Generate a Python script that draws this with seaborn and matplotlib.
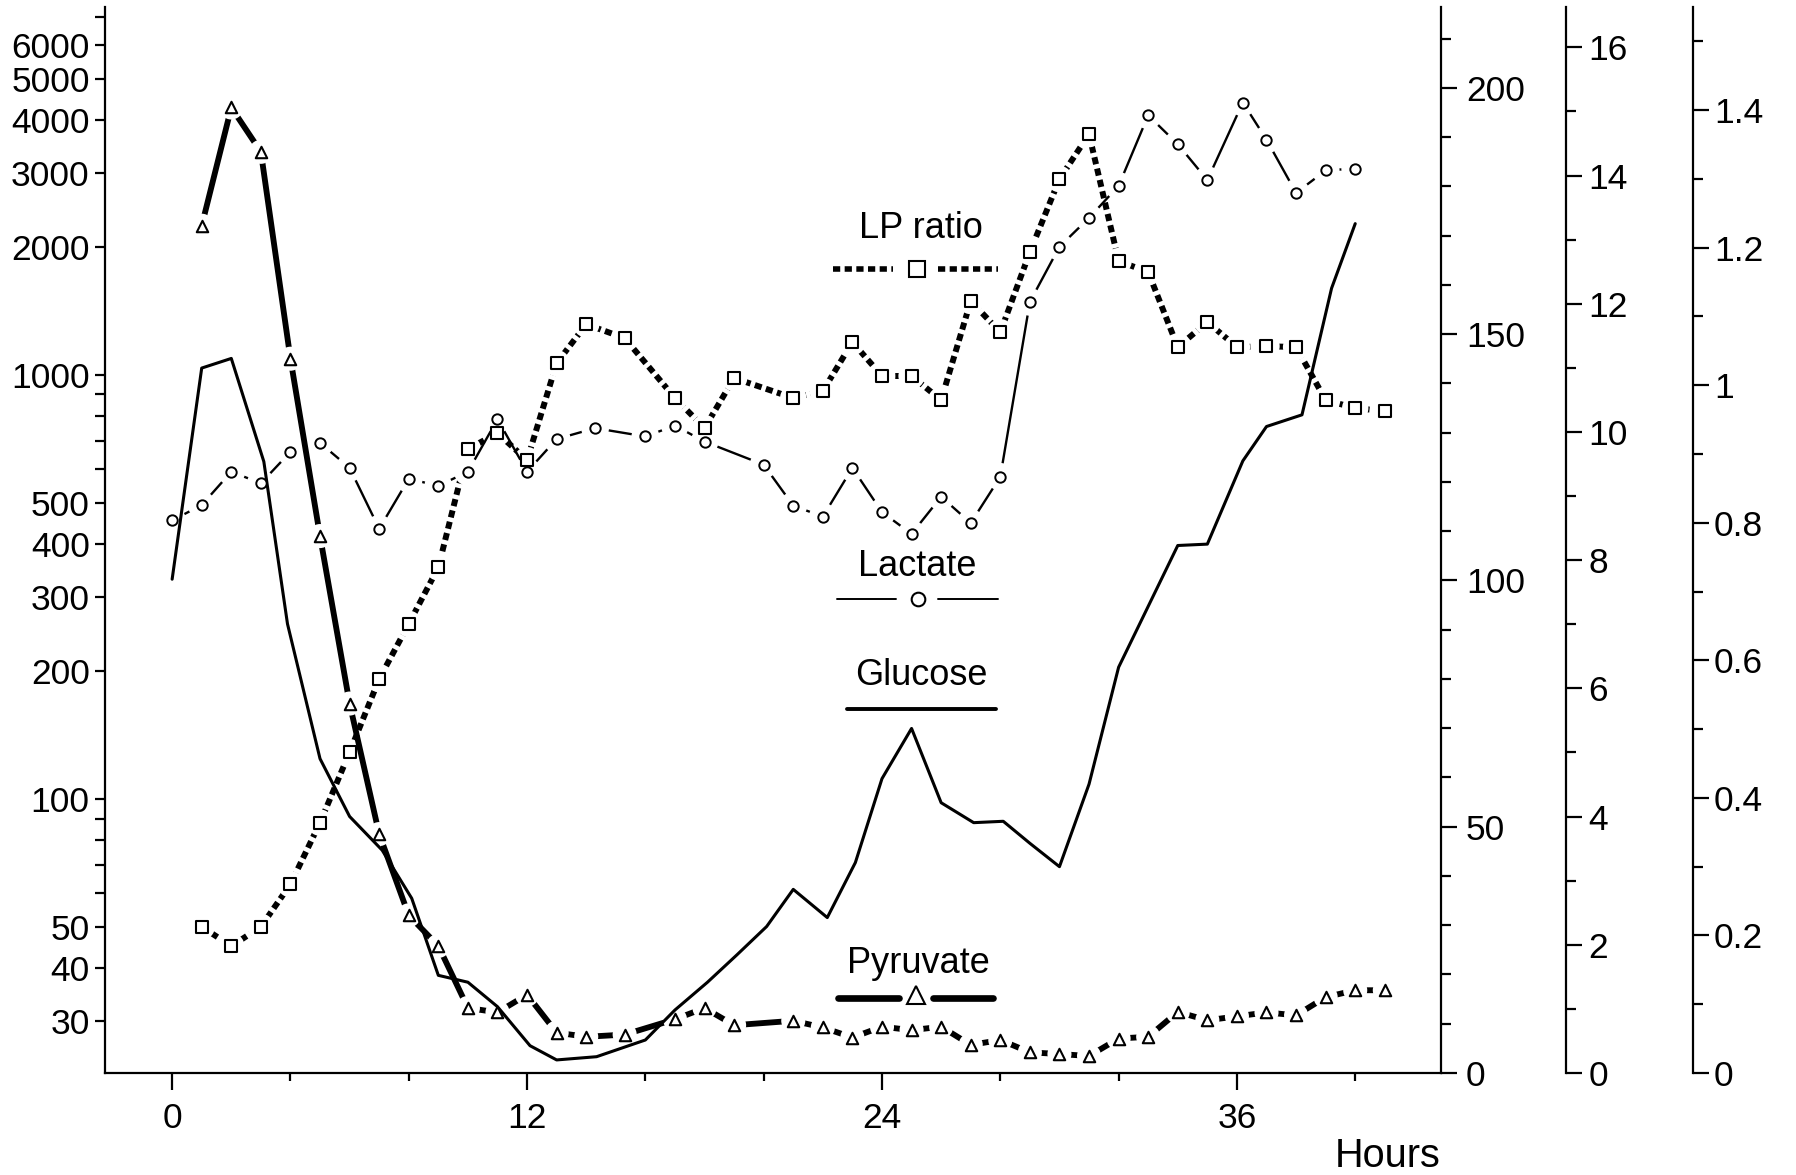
import numpy as np
import matplotlib
matplotlib.use("Agg")
import matplotlib.pyplot as plt
import seaborn as sns
from matplotlib.ticker import FixedLocator, NullFormatter, FuncFormatter, MultipleLocator

# ---------------- data ----------------
lp_hours = [1, 2, 3, 4, 5, 6, 7, 8, 9, 10, 11, 12, 13, 14, 15.3, 17, 18, 19,
            21, 22, 23, 24, 25, 26, 27, 28, 29, 30, 31, 32, 33, 34, 35, 36, 37, 38, 39, 40, 41]
lp_ratio = [50, 45, 50, 63, 88, 129, 192, 259, 352, 669, 730, 630, 1067, 1318, 1222, 883, 750, 984,
            883, 917, 1196, 995, 995, 873, 1495, 1262, 1950, 2899, 3700, 1857, 1750, 1164, 1334,
            1164, 1170, 1164, 873, 836, 822]

pyr_hours = [1, 2, 3, 4, 5, 6, 7, 8, 9, 10, 11, 12, 13, 14, 15.3, 17, 18, 19,
             21, 22, 23, 24, 25, 26, 27, 28, 29, 30, 31, 32, 33, 34, 35, 36, 37, 38, 39, 40, 41]
pyruvate = [172, 196, 187, 145, 109, 75, 48.5, 32, 25.8, 13.2, 12.3, 15.9, 8.2, 7.35, 7.8, 10.9, 13.2, 9.7,
            10.6, 9.25, 7.2, 9.4, 8.7, 9.4, 5.7, 6.7, 4.2, 3.85, 3.45, 7.0, 7.35, 12.4, 10.7,
            11.5, 12.3, 11.7, 15.4, 16.8, 16.8]

lac_hours = [0, 1, 2, 3, 4, 5, 6, 7, 8, 9, 10, 11, 12, 13, 14.3, 16, 17, 18,
             20, 21, 22, 23, 24, 25, 26, 27, 28, 29, 30, 31, 32, 33, 34, 35, 36.2, 37, 38, 39, 40]
lactate = [8.62, 8.86, 9.38, 9.2, 9.69, 9.83, 9.44, 8.49, 9.27, 9.16, 9.38, 10.2, 9.38, 9.89, 10.06,
           9.93, 10.1, 9.85, 9.49, 8.85, 8.68, 9.44, 8.75, 8.41, 8.99, 8.58, 9.30, 12.03, 12.89,
           13.34, 13.84, 14.94, 14.49, 13.93, 15.14, 14.56, 13.73, 14.08, 14.11]

glu_hours = [0, 1, 2, 3.1, 3.9, 5, 6, 7.1, 8.1, 9, 10, 11, 12.1, 13, 14.35, 16, 17, 18.1, 19.1,
             20.1, 21, 22.15, 23.1, 24, 25, 26, 27.1, 28.1, 29, 30, 31, 32, 34, 35, 36.2, 37,
             38.2, 39.2, 40]
glucose = [0.718, 1.025, 1.039, 0.889, 0.653, 0.457, 0.373, 0.324, 0.254, 0.142, 0.132, 0.0964,
           0.0397, 0.019, 0.0237, 0.048, 0.0916, 0.132, 0.172, 0.213, 0.267, 0.226, 0.306, 0.428,
           0.501, 0.393, 0.364, 0.366, 0.334, 0.300, 0.42, 0.59, 0.767, 0.769, 0.890, 0.940,
           0.957, 1.141, 1.235]

x_major = [0, 12, 24, 36]
x_minor = [4, 8, 16, 20, 28, 32, 40]
left_major = [30, 40, 50, 100, 200, 300, 400, 500, 1000, 2000, 3000, 4000, 5000, 6000]
left_minor = [60, 70, 80, 90, 600, 700, 800, 900, 7000]

# ---------------- style ----------------
sns.set_theme(style="ticks", rc={
    "axes.edgecolor": "black", "axes.linewidth": 1.6,
    "xtick.color": "black", "ytick.color": "black",
    "text.color": "black", "axes.labelcolor": "black",
    "xtick.major.width": 1.6, "ytick.major.width": 1.6,
    "xtick.minor.width": 1.6, "ytick.minor.width": 1.6,
})
plt.rcParams["font.family"] = ["Liberation Sans", "DejaVu Sans"]
FS = 25.5
FS_LEG = 26

W, H = 1796, 1175
fig = plt.figure(figsize=(W / 100, H / 100), dpi=100)
L, R, T, B = 105, 1441, 7, 1073
ax = fig.add_axes([L / W, 1 - B / H, (R - L) / W, (B - T) / H])

def ax_x(px):
    return (px - L) / (R - L)

def ax_y(py):
    return (B - py) / (B - T)

XLIM = (-2.27, 42.9)
LP_LIM = (22.6, 7380)
PYR_LIM = (0, 216.4)
LAC_LIM = (0, 16.63)
GLU_LIM = (0, 1.55)
LP_DASH = (0, (1.2, 0.75))

# ---------- main axis: LP ratio (log) ----------
ax.set_yscale("log")
ax.set_ylim(*LP_LIM)
sns.lineplot(x=lp_hours, y=lp_ratio, ax=ax, color="black", lw=4.3,
             linestyle=LP_DASH, errorbar=None, zorder=2)
sns.scatterplot(x=lp_hours, y=lp_ratio, ax=ax, marker="o", s=360, color="white",
                edgecolor="none", linewidth=0, zorder=3)

# ---------- lactate axis ----------
ax_lac = ax.twinx()
ax_lac.set_ylim(*LAC_LIM)
sns.lineplot(x=lac_hours, y=lactate, ax=ax_lac, color="black", lw=1.7,
             errorbar=None, zorder=2)
sns.scatterplot(x=lac_hours, y=lactate, ax=ax_lac, marker="o", s=400, color="white",
                edgecolor="none", linewidth=0, zorder=3)

# ---------- pyruvate axis ----------
ax_pyr = ax.twinx()
ax_pyr.set_ylim(*PYR_LIM)
sns.lineplot(x=pyr_hours, y=pyruvate, ax=ax_pyr, color="black", lw=4.2,
             errorbar=None, zorder=2)
sns.scatterplot(x=pyr_hours, y=pyruvate, ax=ax_pyr, marker="o", s=300, color="white",
                edgecolor="none", linewidth=0, zorder=3)

# ---------- glucose axis ----------
ax_glu = ax.twinx()
ax_glu.set_ylim(*GLU_LIM)
sns.lineplot(x=glu_hours, y=glucose, ax=ax_glu, color="black", lw=2.2,
             errorbar=None, zorder=2)

# ---------- marker overlays ----------
m_lp = ax.twinx()
m_lp.set_yscale("log")
sns.scatterplot(x=lp_hours, y=lp_ratio, ax=m_lp, marker="s", s=80, color="white",
                edgecolor="black", linewidth=1.5, zorder=4)
m_lp.set_ylim(*LP_LIM)
m_lac = ax.twinx()
sns.scatterplot(x=lac_hours, y=lactate, ax=m_lac, marker="o", s=56, color="white",
                edgecolor="black", linewidth=1.4, zorder=4)
m_lac.set_ylim(*LAC_LIM)
m_pyr = ax.twinx()
sns.scatterplot(x=pyr_hours, y=pyruvate, ax=m_pyr, marker="^", s=68, color="white",
                edgecolor="black", linewidth=1.5, zorder=4)
m_pyr.set_ylim(*PYR_LIM)
for m in (m_lp, m_lac, m_pyr):
    m.axis("off")

ax_lac.set_ylim(*LAC_LIM)
ax_pyr.set_ylim(*PYR_LIM)
ax_glu.set_ylim(*GLU_LIM)
ax.set_ylim(*LP_LIM)
ax.set_xlim(*XLIM)

# ---------- axes / ticks ----------
fmt = FuncFormatter(lambda v, p: f"{v:g}")
ax.spines["top"].set_visible(False)
ax.spines["right"].set_visible(False)
ax.xaxis.set_major_locator(FixedLocator(x_major))
ax.xaxis.set_minor_locator(FixedLocator(x_minor))
ax.xaxis.set_major_formatter(fmt)
ax.tick_params(axis="x", which="major", length=12, width=1.6, pad=9, labelsize=FS)
ax.tick_params(axis="x", which="minor", length=6, width=1.6)
ax.yaxis.set_major_locator(FixedLocator(left_major))
ax.yaxis.set_minor_locator(FixedLocator(left_minor))
ax.yaxis.set_major_formatter(fmt)
ax.yaxis.set_minor_formatter(NullFormatter())
ax.tick_params(axis="y", which="major", length=7.4, width=1.6, pad=3.6, labelsize=FS)
ax.tick_params(axis="y", which="minor", length=7, width=1.6)
ax.set_xlabel("")
ax.set_ylabel("")

right_specs = [
    (ax_pyr, 1.0, 50, 10, 6.5),
    (ax_lac, 1 + 125 / (R - L), 2, 1, 4.5),
    (ax_glu, 1 + 252 / (R - L), 0.2, 0.1, 3.5),
]
for a, pos, maj, mnr, pad in right_specs:
    for s in ("top", "bottom", "left"):
        a.spines[s].set_visible(False)
    a.spines["right"].set_position(("axes", pos))
    a.yaxis.set_major_locator(MultipleLocator(maj))
    a.yaxis.set_minor_locator(MultipleLocator(mnr))
    a.yaxis.set_major_formatter(fmt)
    a.tick_params(axis="y", which="major", length=11.5, width=1.6, pad=pad, labelsize=FS)
    a.tick_params(axis="y", which="minor", length=7, width=1.6)
    a.set_ylabel("")

ax.text(1.0, ax_y(1167), "Hours", transform=ax.transAxes, ha="right", va="baseline",
        fontsize=28.5)

# ---------- in-plot legend ----------
top = m_pyr
tr = ax.transAxes

def leg_line(x0, x1, py, **kw):
    top.plot([ax_x(x0), ax_x(x1)], [ax_y(py), ax_y(py)], transform=tr, clip_on=False,
             color="black", zorder=6, **kw)

def leg_marker(px, py, marker, ms):
    top.plot([ax_x(px)], [ax_y(py)], transform=tr, clip_on=False, marker=marker, ms=ms,
             mfc="white", mec="black", mew=1.5, ls="none", zorder=7)

def leg_text(px, py, s):
    top.text(ax_x(px), ax_y(py), s, transform=tr, ha="center", va="baseline",
             fontsize=FS_LEG, zorder=7)

LEG_DOTS = (0, (1.3, 0.8))
# LP ratio
leg_text(921, 238, "LP ratio")
leg_line(833, 893, 269, lw=4.0, ls=LEG_DOTS)
leg_line(938, 998, 269, lw=4.0, ls=LEG_DOTS)
leg_marker(916.5, 269, "s", 12)
# Lactate
leg_text(917.5, 576, "Lactate")
leg_line(837, 896, 599, lw=1.4)
leg_line(938, 998, 599, lw=1.4)
leg_marker(918, 599, "o", 9.8)
# Glucose
leg_text(921, 685, "Glucose")
leg_line(847, 996, 709, lw=2.8)
# Pyruvate
leg_text(918.8, 973, "Pyruvate")
leg_line(838, 899, 998, lw=4.8)
leg_line(933, 993, 998, lw=4.8)
leg_marker(915.5, 995, "^", 13)

fig.savefig("out.png", dpi=100)
